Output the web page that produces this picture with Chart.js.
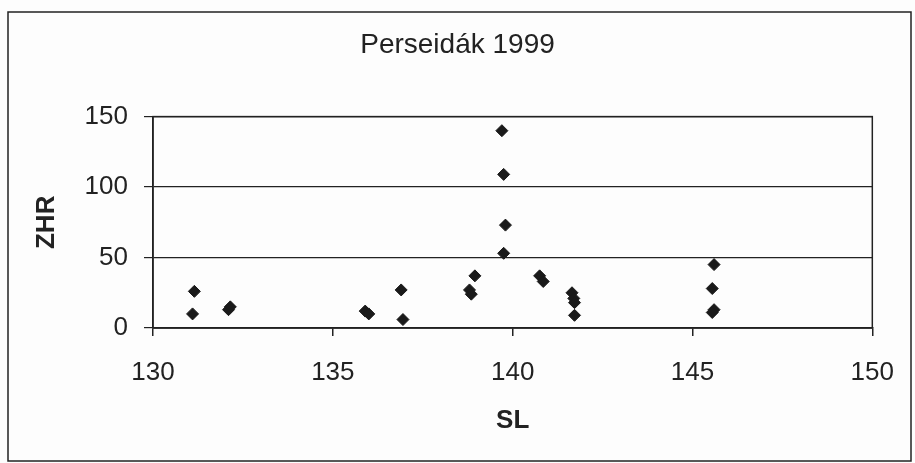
<!DOCTYPE html>
<html>
<head>
<meta charset="utf-8">
<script src="https://cdn.jsdelivr.net/npm/chart.js@4/dist/chart.umd.min.js"></script>
<style>
  html, body { margin: 0; padding: 0; background: #fdfdfd; }
  #wrap { width: 915px; height: 463px; }
</style>
</head>
<body>
<div id="wrap"><canvas id="zhrChart" width="915" height="463"></canvas></div>
<script>
// solar longitude (SL) and ZHR of each observation
const slValues = [131.15, 131.1, 132.1, 132.15, 135.9, 136.0, 136.9, 136.95,
  138.8, 138.85, 138.95, 139.7, 139.75, 139.8, 139.75, 140.75, 140.85,
  141.65, 141.7, 141.72, 141.72, 145.6, 145.55, 145.6, 145.55];
const zhrValues = [26, 10, 13, 15, 12, 10, 27, 6,
  27, 24, 37, 140, 109, 73, 53, 37, 33,
  25, 21, 18, 9, 45, 28, 13, 11];
const xTicks = [130, 135, 140, 145, 150];
const yTicks = [0, 50, 100, 150];

const ink = '#222';

// the thin frame around the whole chart, and the plot area box
const outerFrame = {
  id: 'outerFrame',
  beforeDraw(chart) {
    const ctx = chart.ctx;
    ctx.save();
    ctx.fillStyle = '#fdfdfd';
    ctx.fillRect(0, 0, chart.width, chart.height);
    ctx.strokeStyle = ink;
    ctx.lineWidth = 1.5;
    ctx.strokeRect(8, 12, 903, 449);
    ctx.restore();
  },
  afterDatasetsDraw(chart) {
    const {ctx, chartArea} = chart;
    ctx.save();
    ctx.strokeStyle = ink;
    ctx.lineWidth = 1.5;
    ctx.strokeRect(chartArea.left, chartArea.top, chartArea.right - chartArea.left, chartArea.bottom - chartArea.top);
    ctx.restore();
  }
};

const points = slValues.map((x, i) => ({ x: x, y: zhrValues[i] }));

const ctx = document.getElementById('zhrChart').getContext('2d');
const chart = new Chart(ctx, {
  type: 'scatter',
  data: {
    datasets: [{
      label: 'ZHR',
      data: points,
      pointStyle: 'rectRot',
      pointRadius: 6,
      pointBorderWidth: 1,
      backgroundColor: '#1a1a1a',
      borderColor: '#1a1a1a'
    }]
  },
  options: {
    responsive: false,
    animation: false,
    layout: { padding: 0 },
    plugins: {
      legend: { display: false },
      tooltip: { enabled: false },
      title: {
        display: true,
        text: 'Perseidák 1999',
        color: ink,
        font: { family: 'Liberation Sans, Arial', size: 28, weight: 'normal', lineHeight: 1.2 },
        padding: { top: 28, bottom: 55 }
      }
    },
    scales: {
      x: {
        type: 'linear',
        min: 130,
        max: 150,
        afterBuildTicks: scale => { scale.ticks = xTicks.map(v => ({ value: v })); },
        afterFit: scale => { scale.height = 135; },
        ticks: {
          color: ink,
          padding: 21,
          font: { family: 'Liberation Sans, Arial', size: 26 }
        },
        grid: { drawOnChartArea: false, color: ink, tickLength: 8, lineWidth: 1.5 },
        border: { color: ink, width: 1.5 },
        title: {
          display: true,
          text: 'SL',
          color: ink,
          font: { family: 'Liberation Sans, Arial', size: 26, weight: 'bold', lineHeight: 1.2 },
          padding: { top: 0, bottom: 27 }
        }
      },
      y: {
        type: 'linear',
        min: 0,
        max: 150,
        afterBuildTicks: scale => { scale.ticks = yTicks.map(v => ({ value: v })); },
        afterFit: scale => { scale.width = 153; },
        ticks: {
          color: ink,
          padding: 16,
          font: { family: 'Liberation Sans, Arial', size: 26 }
        },
        grid: { color: ink, tickLength: 9, lineWidth: 1.2 },
        border: { color: ink, width: 1.5 },
        title: {
          display: true,
          text: 'ZHR',
          color: ink,
          font: { family: 'Liberation Sans, Arial', size: 26, weight: 'bold', lineHeight: 1.2 },
          padding: { top: 31, bottom: 0 }
        }
      },
      // empty right-hand strip so the plot ends at 150 while the title stays centred on the page
      yRight: {
        position: 'right',
        min: 0,
        max: 150,
        afterFit: scale => { scale.width = 38; },
        ticks: { display: false },
        grid: { display: false },
        border: { display: false }
      }
    }
  },
  plugins: [outerFrame]
});
</script>
</body>
</html>
